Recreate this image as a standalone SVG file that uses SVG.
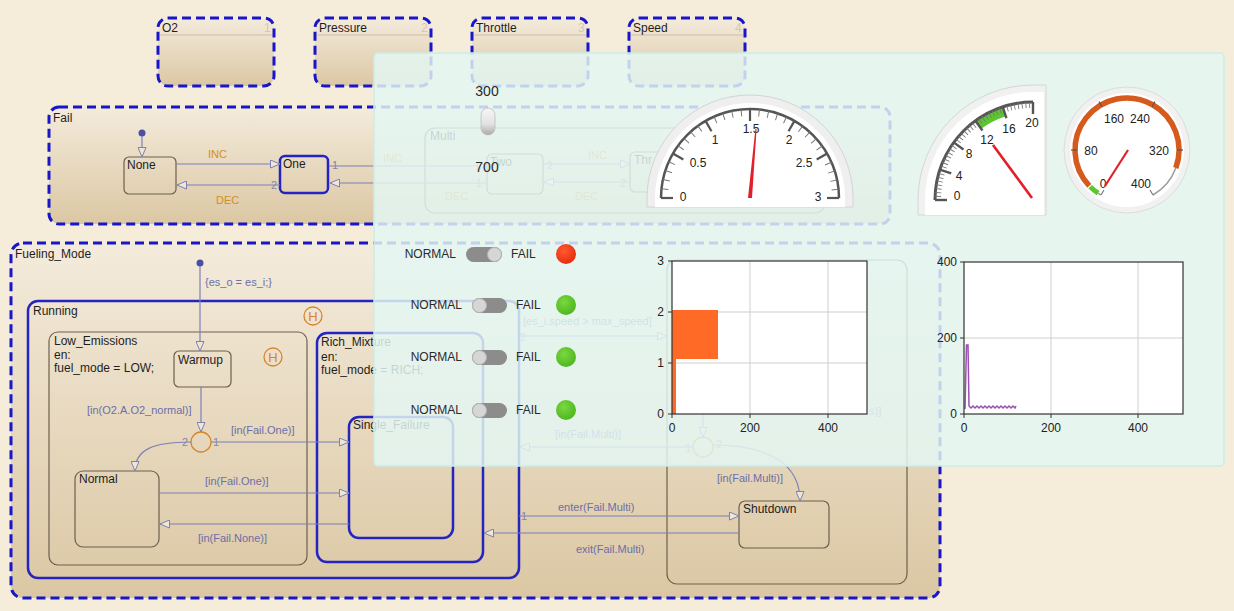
<svg xmlns="http://www.w3.org/2000/svg" width="1234" height="611" viewBox="0 0 1234 611">
<defs>
<style>
text{font-family:"Liberation Sans",Arial,sans-serif}
.sn{font-size:12px;fill:#1e1e1e}
.tl{font-size:11px;fill:#6b6fa8}
.num{font-size:11px;fill:#8686a8}
.id{font-size:12px;fill:#d4c8b3}
.ev{font-size:11px;fill:#d48f1c}
.dash{fill:url(#sg);stroke:#1717c9;stroke-width:3;stroke-dasharray:9 5}
.run{fill:none;stroke:#2424c0;stroke-width:2.5}
.st{fill:none;stroke:#6d604c;stroke-width:1.2}
.tr{fill:none;stroke:#7d80b6;stroke-width:1.2;marker-end:url(#ah)}
.hist{fill:none;stroke:#d6862a;stroke-width:1.3}
.ht{font-size:13px;fill:#d6862a;text-anchor:middle}
.gl{font-size:12px;fill:#222;text-anchor:middle}
.wl{font-size:12px;fill:#2a2a2a}
.ax{font-size:12px;fill:#222}
.grid{stroke:#cfcfcf;stroke-width:1}
.trk{fill:#8c8c8c}
.knob{fill:#d6d6d6;stroke:#b4b4b4;stroke-width:1}
</style>
<linearGradient id="sg" x1="0" y1="0" x2="0" y2="1">
<stop offset="0" stop-color="#f4ebdc"/><stop offset="1" stop-color="#dbc7a3"/>
</linearGradient>
<linearGradient id="lever" x1="0" y1="0" x2="0" y2="1">
<stop offset="0" stop-color="#f6f6f6"/><stop offset="0.6" stop-color="#e2e2e2"/><stop offset="1" stop-color="#a9a9a9"/>
</linearGradient>
<radialGradient id="red" cx="0.4" cy="0.35" r="0.7">
<stop offset="0" stop-color="#ff5a30"/><stop offset="1" stop-color="#e52a0c"/>
</radialGradient>
<radialGradient id="grn" cx="0.4" cy="0.35" r="0.7">
<stop offset="0" stop-color="#7ad842"/><stop offset="1" stop-color="#4cb51c"/>
</radialGradient>
<marker id="ah" markerWidth="11" markerHeight="9" refX="10" refY="4.5" orient="auto" markerUnits="userSpaceOnUse">
<path d="M0.5,0.5 L10,4.5 L0.5,8.5 Z" fill="#efe6d6" stroke="#7d80b6" stroke-width="1"/>
</marker>
<line id="smaj" x1="661" y1="198" x2="673" y2="198" stroke="#555" stroke-width="2.2"/>
<line id="qmaj" x1="935" y1="200" x2="947" y2="200" stroke="#555" stroke-width="2.4"/>
</defs>

<rect x="0" y="0" width="1234" height="611" fill="#f6ecda"/>

<!-- Top parallel states -->
<g id="O2">
<rect class="dash" x="158" y="18" width="116" height="68" rx="10"/>
<line x1="160" y1="35" x2="272" y2="35" stroke="#cbbfaa" stroke-width="1"/>
<text class="sn" x="162" y="32">O2</text><text class="id" x="264" y="32">1</text>
</g>
<g id="Pressure">
<rect class="dash" x="315" y="18" width="116" height="68" rx="10"/>
<line x1="317" y1="35" x2="429" y2="35" stroke="#cbbfaa" stroke-width="1"/>
<text class="sn" x="319" y="32">Pressure</text><text class="id" x="421" y="32">2</text>
</g>
<g id="Throttle">
<rect class="dash" x="472" y="18" width="116" height="68" rx="10"/>
<line x1="474" y1="35" x2="586" y2="35" stroke="#cbbfaa" stroke-width="1"/>
<text class="sn" x="476" y="32">Throttle</text><text class="id" x="578" y="32">3</text>
</g>
<g id="Speed">
<rect class="dash" x="629" y="18" width="116" height="68" rx="10"/>
<line x1="631" y1="35" x2="743" y2="35" stroke="#cbbfaa" stroke-width="1"/>
<text class="sn" x="633" y="32">Speed</text><text class="id" x="735" y="32">4</text>
</g>

<!-- Fail -->
<g id="Fail">
<rect class="dash" x="49" y="107" width="841" height="117" rx="10"/>
<text class="sn" x="53" y="122">Fail</text>
</g>
<g id="None"><rect class="st" x="124" y="157" width="52" height="37" rx="5"/><text class="sn" x="127" y="169">None</text></g>
<g id="One"><rect class="run" x="280" y="156" width="48" height="37" rx="5"/><text class="sn" x="283" y="168">One</text></g>
<g id="Multi"><rect class="st" x="425" y="128" width="400" height="85" rx="10"/><text class="sn" x="430" y="140">Multi</text></g>
<g id="Two"><rect class="st" x="487" y="154" width="56" height="40" rx="5"/><text class="sn" x="490" y="166">Two</text></g>
<g id="Three"><rect class="st" x="630" y="152" width="60" height="40" rx="5"/><text class="sn" x="634" y="164">Thr</text></g>

<!-- Fueling_Mode -->
<g id="Fueling_Mode">
<rect class="dash" x="11" y="243" width="929" height="355" rx="12"/>
<text class="sn" x="15" y="258">Fueling_Mode</text>
</g>
<g id="Running">
<rect class="run" x="28" y="301" width="491" height="277" rx="10"/>
<text class="sn" x="33" y="315">Running</text>
<circle class="hist" cx="313" cy="316" r="9"/><text class="ht" x="313" y="321">H</text>
</g>
<g id="Low_Emissions">
<rect class="st" x="49" y="332" width="258" height="233" rx="9"/>
<text class="sn" x="54" y="345">Low_Emissions</text>
<text class="sn" x="54" y="359">en:</text>
<text class="sn" x="54" y="372">fuel_mode = LOW;</text>
<circle class="hist" cx="273" cy="357" r="9"/><text class="ht" x="273" y="362">H</text>
</g>
<g id="Warmup"><rect class="st" x="174" y="351" width="57" height="36" rx="5"/><text class="sn" x="178" y="364">Warmup</text></g>
<g id="Normal"><rect class="st" x="75" y="471" width="84" height="76" rx="8"/><text class="sn" x="79" y="483">Normal</text></g>
<g id="Rich_Mixture">
<rect class="run" x="317" y="333" width="166" height="229" rx="10"/>
<text class="sn" x="321" y="346">Rich_Mixture</text>
<text class="sn" x="321" y="361">en:</text>
<text class="sn" x="321" y="374">fuel_mode = RICH;</text>
</g>
<g id="Single_Failure"><rect class="run" x="349" y="417" width="104" height="121" rx="10"/><text class="sn" x="353" y="429">Single_Failure</text></g>
<g id="Degraded"><rect class="st" x="667" y="260" width="240" height="324" rx="10"/></g>
<g id="Shutdown"><rect class="st" x="739" y="501" width="90" height="47" rx="6"/><text class="sn" x="743" y="513">Shutdown</text></g>
<g id="Junction1"><circle cx="201" cy="442" r="10" fill="none" stroke="#d6862a" stroke-width="1.3"/></g>
<g id="Junction2"><circle cx="703" cy="447" r="10" fill="none" stroke="#d6862a" stroke-width="1.3"/></g>

<!-- Connectors -->
<g id="connectors">
<circle cx="142" cy="133" r="3.5" fill="#4b4ea2"/>
<path class="tr" d="M142,136 L142,157"/>
<path class="tr" d="M176,164 L280,164"/>
<path class="tr" d="M280,185 L177,185"/>
<path class="tr" d="M329,166 L487,166"/>
<path class="tr" d="M487,183 L330,183"/>
<path class="tr" d="M543,164 L630,164"/>
<path class="tr" d="M630,182 L544,182"/>
<circle cx="200" cy="263" r="3.5" fill="#4b4ea2"/>
<path class="tr" d="M200,266 L200,351"/>
<path class="tr" d="M201,387 L201,432"/>
<path class="tr" d="M191,442 C152,442 135,450 135,471"/>
<path class="tr" d="M211,442 L349,442"/>
<path class="tr" d="M159,493 L349,493"/>
<path class="tr" d="M349,524 L160,524"/>
<path class="tr" d="M519,336 L667,336"/>
<path class="tr" d="M703,400 L703,437"/>
<path class="tr" d="M693,447 L520,447"/>
<path class="tr" d="M713,445 C772,445 800,466 800,501"/>
<path class="tr" d="M519,516 L739,516"/>
<path class="tr" d="M739,533 L484,533"/>
<text class="ev" x="208" y="158">INC</text>
<text class="ev" x="216" y="204">DEC</text>
<text class="ev" x="383" y="162">INC</text>
<text class="ev" x="445" y="200">DEC</text>
<text class="ev" x="588" y="159">INC</text>
<text class="ev" x="575" y="200">DEC</text>
<text class="num" x="332" y="169">1</text>
<text class="num" x="271" y="189">2</text>
<text class="num" x="547" y="169">2</text>
<text class="num" x="620" y="187">2</text>
<text class="num" x="476" y="187">1</text>
<text class="tl" x="205" y="286">{es_o = es_i;}</text>
<text class="tl" x="87" y="414">[in(O2.A.O2_normal)]</text>
<text class="num" x="182" y="446">2</text>
<text class="num" x="213" y="446">1</text>
<text class="tl" x="231" y="434">[in(Fail.One)]</text>
<text class="tl" x="205" y="485">[in(Fail.One)]</text>
<text class="tl" x="198" y="542">[in(Fail.None)]</text>
<text class="tl" x="523" y="325">[es_i.speed &gt; max_speed]</text>
<text class="num" x="520" y="341">2</text>
<text class="tl" x="869" y="415">s)]</text>
<text class="tl" x="555" y="438">[in(Fail.Multi)]</text>
<text class="num" x="685" y="452">1</text>
<text class="num" x="716" y="448">2</text>
<text class="tl" x="717" y="482">[in(Fail.Multi)]</text>
<text class="num" x="521" y="520">1</text>
<text class="tl" x="558" y="511">enter(Fail.Multi)</text>
<text class="tl" x="576" y="553">exit(Fail.Multi)</text>
</g>

<!-- Dashboard panel overlay -->
<g id="panel">
<rect x="374" y="53" width="850" height="413" rx="4" fill="#e3f7f3" fill-opacity="0.84" stroke="#cdebe5" stroke-width="1.5"/>
</g>

<!-- Rotary lever -->
<g id="lever_300_700">
<text x="487" y="96" font-size="14" fill="#2a2a2a" text-anchor="middle">300</text>
<rect x="481" y="108" width="14" height="27" rx="7" fill="url(#lever)" stroke="#bdbdbd" stroke-width="0.8"/>
<text x="487" y="172" font-size="14" fill="#2a2a2a" text-anchor="middle">700</text>
</g>

<!-- Semicircular gauge -->
<g id="gauge_semi">
<path d="M647,207 L647,198 A103,103 0 0 1 853,198 L853,207 Z" fill="#efefef" stroke="#d4d4d4" stroke-width="1"/>
<path d="M655,207 L655,198 A95,95 0 0 1 845,198 L845,207 Z" fill="#ffffff"/>
<path d="M661,198 A89,89 0 0 1 839,198" fill="none" stroke="#555" stroke-width="2.5"/>
<path d="M664.5,198 A85.5,85.5 0 0 1 835.5,198" fill="none" stroke="#777" stroke-width="7" stroke-dasharray="1 7.954" stroke-dashoffset="0.5"/>
<use href="#smaj"/>
<use href="#smaj" transform="rotate(30 750 198)"/>
<use href="#smaj" transform="rotate(60 750 198)"/>
<use href="#smaj" transform="rotate(90 750 198)"/>
<use href="#smaj" transform="rotate(120 750 198)"/>
<use href="#smaj" transform="rotate(150 750 198)"/>
<use href="#smaj" transform="rotate(180 750 198)"/>
<text class="gl" x="683" y="201">0</text>
<text class="gl" x="698" y="167">0.5</text>
<text class="gl" x="715" y="144">1</text>
<text class="gl" x="751" y="133">1.5</text>
<text class="gl" x="789" y="144">2</text>
<text class="gl" x="804" y="167">2.5</text>
<text class="gl" x="818" y="201">3</text>
<polygon points="748,198 752,198 756.6,129 755.4,129" fill="#e2202b"/>
</g>

<!-- Quarter gauge -->
<g id="gauge_quarter">
<path d="M918,215 L918,200 A115,115 0 0 1 1033,85 L1046,85 L1046,215 Z" fill="#f1f1f1" stroke="#d6d6d6" stroke-width="1"/>
<path d="M925,215 L925,200 A108,108 0 0 1 1033,92 L1044,92 L1044,215 Z" fill="#ffffff"/>
<path d="M978.3,124.8 A93,93 0 0 1 1004.3,111.6" fill="none" stroke="#5cc62e" stroke-width="10"/>
<path d="M935,200 A98,98 0 0 1 1033,102" fill="none" stroke="#555" stroke-width="3"/>
<path d="M938,200 A95,95 0 0 1 1033,105" fill="none" stroke="#777" stroke-width="6" stroke-dasharray="0.9 2.831" stroke-dashoffset="0.45"/>
<use href="#qmaj"/>
<use href="#qmaj" transform="rotate(18 1033 200)"/>
<use href="#qmaj" transform="rotate(36 1033 200)"/>
<use href="#qmaj" transform="rotate(54 1033 200)"/>
<use href="#qmaj" transform="rotate(72 1033 200)"/>
<use href="#qmaj" transform="rotate(90 1033 200)"/>
<text class="gl" x="957" y="200">0</text>
<text class="gl" x="959" y="180">4</text>
<text class="gl" x="969" y="158">8</text>
<text class="gl" x="987" y="144">12</text>
<text class="gl" x="1009" y="133">16</text>
<text class="gl" x="1032" y="127">20</text>
<line x1="993" y1="145" x2="1032" y2="198" stroke="#e2202b" stroke-width="2.6"/>
</g>

<!-- Round gauge -->
<g id="gauge_round">
<circle cx="1127" cy="150" r="63" fill="#f1f1f1" stroke="#dcdcdc" stroke-width="1"/>
<circle cx="1127" cy="150" r="57" fill="#ffffff"/>
<path d="M1101,195 A52,52 0 0 1 1098.1,193.2" fill="none" stroke="#9a9a9a" stroke-width="1.5"/>
<path d="M1098.1,193.2 A52,52 0 0 1 1090.2,186.8" fill="none" stroke="#5cc62e" stroke-width="5"/>
<path d="M1089.3,185.8 A52,52 0 1 1 1175.8,168" fill="none" stroke="#d65a1c" stroke-width="5.5"/>
<path d="M1175.8,168 A52,52 0 0 1 1153,195" fill="none" stroke="#9a9a9a" stroke-width="1.5"/>
<line x1="1101" y1="195" x2="1104" y2="190" stroke="#777" stroke-width="1.2"/>
<line x1="1153" y1="195" x2="1150" y2="190" stroke="#777" stroke-width="1.2"/>
<line x1="1071" y1="150" x2="1077" y2="150" stroke="#555" stroke-width="1.2"/>
<line x1="1177" y1="150" x2="1183" y2="150" stroke="#555" stroke-width="1.2"/>
<line x1="1102" y1="106.7" x2="1099" y2="101.5" stroke="#555" stroke-width="1.2"/>
<line x1="1152" y1="106.7" x2="1155" y2="101.5" stroke="#555" stroke-width="1.2"/>
<text class="gl" x="1103" y="188">0</text>
<text class="gl" x="1091" y="155">80</text>
<text class="gl" x="1114" y="123">160</text>
<text class="gl" x="1140" y="123">240</text>
<text class="gl" x="1159" y="155">320</text>
<text class="gl" x="1141" y="188">400</text>
<line x1="1128" y1="150" x2="1105" y2="186" stroke="#e2202b" stroke-width="2.2"/>
</g>

<!-- Switches and lamps -->
<g id="switch1">
<text class="wl" x="456" y="258" text-anchor="end">NORMAL</text>
<rect class="trk" x="466" y="247" width="36" height="15" rx="7.5"/>
<circle class="knob" cx="494.5" cy="254.5" r="7"/>
<text class="wl" x="511" y="258">FAIL</text>
<circle cx="566" cy="254" r="10" fill="url(#red)"/>
</g>
<g id="switch2">
<text class="wl" x="462" y="309" text-anchor="end">NORMAL</text>
<rect class="trk" x="472" y="298" width="35" height="15" rx="7.5"/>
<circle class="knob" cx="479.5" cy="305.5" r="7"/>
<text class="wl" x="516" y="309">FAIL</text>
<circle cx="566" cy="305" r="10" fill="url(#grn)"/>
</g>
<g id="switch3">
<text class="wl" x="462" y="361" text-anchor="end">NORMAL</text>
<rect class="trk" x="472" y="350" width="35" height="15" rx="7.5"/>
<circle class="knob" cx="479.5" cy="357.5" r="7"/>
<text class="wl" x="516" y="361">FAIL</text>
<circle cx="566" cy="357" r="10" fill="url(#grn)"/>
</g>
<g id="switch4">
<text class="wl" x="462" y="414" text-anchor="end">NORMAL</text>
<rect class="trk" x="472" y="403" width="35" height="15" rx="7.5"/>
<circle class="knob" cx="479.5" cy="410.5" r="7"/>
<text class="wl" x="516" y="414">FAIL</text>
<circle cx="566" cy="410" r="10" fill="url(#grn)"/>
</g>

<!-- Chart 1 -->
<g id="chart1">
<rect x="672" y="261" width="195" height="153" fill="#ffffff"/>
<line class="grid" x1="750" y1="261" x2="750" y2="414"/>
<line class="grid" x1="828" y1="261" x2="828" y2="414"/>
<line class="grid" x1="672" y1="312" x2="867" y2="312"/>
<line class="grid" x1="672" y1="363" x2="867" y2="363"/>
<rect x="672" y="310" width="46" height="49" fill="#ff6a26"/>
<rect x="672" y="358" width="4" height="56" fill="#ff6a26"/>
<rect x="672" y="261" width="195" height="153" fill="none" stroke="#333" stroke-width="1.2"/>
<path d="M668,261 H672 M668,312 H672 M668,363 H672 M668,414 H672 M672,414 V418 M750,414 V418 M828,414 V418" stroke="#333" stroke-width="1"/>
<text class="ax" x="664" y="265" text-anchor="end">3</text>
<text class="ax" x="664" y="316" text-anchor="end">2</text>
<text class="ax" x="664" y="367" text-anchor="end">1</text>
<text class="ax" x="664" y="418" text-anchor="end">0</text>
<text class="ax" x="672" y="432" text-anchor="middle">0</text>
<text class="ax" x="750" y="432" text-anchor="middle">200</text>
<text class="ax" x="828" y="432" text-anchor="middle">400</text>
</g>

<!-- Chart 2 -->
<g id="chart2">
<rect x="964" y="262" width="219" height="152" fill="#ffffff"/>
<line class="grid" x1="1051" y1="262" x2="1051" y2="414"/>
<line class="grid" x1="1138" y1="262" x2="1138" y2="414"/>
<line class="grid" x1="964" y1="338" x2="1183" y2="338"/>
<polyline points="965,409 966.5,345 968,345 969,406 971,408 973,406 975,408 977,406 979,408 981,406 983,408 985,406 987,408 989,406 991,408 993,406 995,408 997,406 999,408 1001,406 1003,408 1005,406 1007,408 1009,406 1011,408 1013,406 1015,408 1016,406" fill="none" stroke="#9b4fb2" stroke-width="1.5"/>
<rect x="964" y="262" width="219" height="152" fill="none" stroke="#333" stroke-width="1.2"/>
<path d="M960,262 H964 M960,338 H964 M960,414 H964 M964,414 V418 M1051,414 V418 M1138,414 V418" stroke="#333" stroke-width="1"/>
<text class="ax" x="957" y="266" text-anchor="end">400</text>
<text class="ax" x="957" y="342" text-anchor="end">200</text>
<text class="ax" x="957" y="418" text-anchor="end">0</text>
<text class="ax" x="964" y="432" text-anchor="middle">0</text>
<text class="ax" x="1051" y="432" text-anchor="middle">200</text>
<text class="ax" x="1138" y="432" text-anchor="middle">400</text>
</g>
</svg>
